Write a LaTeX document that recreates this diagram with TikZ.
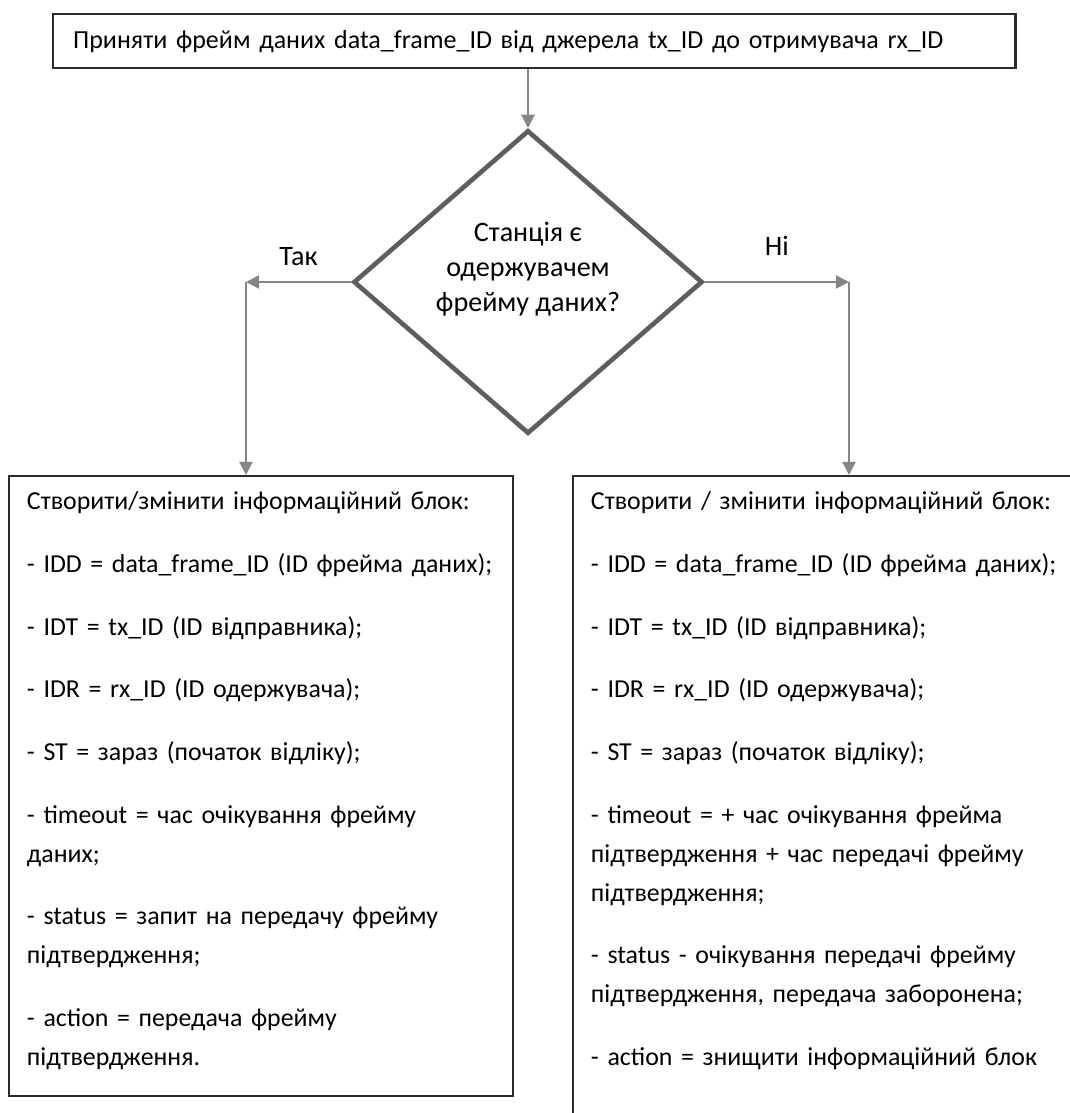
\documentclass[tikz,border=0pt]{standalone}
\usepackage{fontspec}
\setmainfont{Carlito}
\usetikzlibrary{shapes.geometric,arrows.meta,positioning}
\definecolor{flowgray}{HTML}{858585}
\definecolor{diagray}{HTML}{5E5E5E}
\definecolor{boxline}{HTML}{2B2B2B}
\tikzset{
  headbox/.style={draw=boxline, line width=1.6pt, anchor=north west,
    minimum width=24.05cm, minimum height=1.35cm, inner xsep=0.5cm,
    text width=23.05cm, align=left, font=\fontsize{18.5pt}{23pt}\selectfont},
  decision/.style={diamond, draw=diagray, line width=3.3pt,
    minimum width=8.725cm, minimum height=7.5cm, inner sep=0pt,
    align=center, text depth=0.75cm, font=\fontsize{20pt}{24.9pt}\selectfont},
  infobox/.style={draw=boxline, line width=1.4pt, anchor=north west,
    inner ysep=0.4cm, align=left, font=\fontsize{18.4pt}{27.74pt}\selectfont},
  flow/.style={draw=flowgray, line width=1.5pt,
    -{Triangle[length=0.33cm, width=0.33cm]}},
  branch/.style={inner sep=0pt, font=\fontsize{20pt}{24pt}\selectfont},
}
\newcommand{\blockgap}{\\[0.59cm]}
\begin{document}
\begin{tikzpicture}[x=0.025cm, y=-0.025cm]
  \useasboundingbox (0,0) rectangle (1070,1113);
  \clip (0,0) rectangle (1070,1113);
  % blocks
  \node[headbox] (recv) at (52,13)
    {Приняти фрейм даних data\_frame\_ID від джерела tx\_ID до отримувача rx\_ID};
  \node[decision] (check) at (528,282) {Станція є\\одержувачем\\фрейму даних?};
  \coordinate (yesturn) at (246,282);
  \coordinate (noturn) at (849,282);
  \node[infobox, minimum width=12.6cm, text width=11.7cm, inner xsep=0.45cm,
    text depth=14.25cm] (yesblock) at (8,475)
    {Створити/змінити інформаційний блок:\blockgap
     - IDD = data\_frame\_ID (ID фрейма даних);\blockgap
     - IDT = tx\_ID (ID відправника);\blockgap
     - IDR = rx\_ID (ID одержувача);\blockgap
     - ST = зараз (початок відліку);\blockgap
     - timeout = час очікування фрейму\\даних;\blockgap
     - status = запит на передачу фрейму\\підтвердження;\blockgap
     - action = передача фрейму\\підтвердження.};
  \node[infobox, minimum width=13.2cm, text width=12.3cm, inner xsep=0.45cm,
    text depth=15.4cm] (noblock) at (572,475)
    {Створити / змінити інформаційний блок:\blockgap
     - IDD = data\_frame\_ID (ID фрейма даних);\blockgap
     - IDT = tx\_ID (ID відправника);\blockgap
     - IDR = rx\_ID (ID одержувача);\blockgap
     - ST = зараз (початок відліку);\blockgap
     - timeout = + час очікування фрейма\\підтвердження + час передачі фрейму\\підтвердження;\blockgap
     - status - очікування передачі фрейму\\підтвердження, передача заборонена;\blockgap
     - action = знищити інформаційний блок};
  % connectors
  \draw[flow] (recv.south -| check.north) -- (check.north);
  \draw[flow] (check.west) -- node[branch, above=0.375cm] {Так} (yesturn);
  \draw[flow] (yesturn) -- (yesturn |- yesblock.north);
  \draw[flow] (check.east) -- node[branch, above=0.625cm] {Ні} (noturn);
  \draw[flow] (noturn) -- (noturn |- noblock.north);
\end{tikzpicture}
\end{document}
